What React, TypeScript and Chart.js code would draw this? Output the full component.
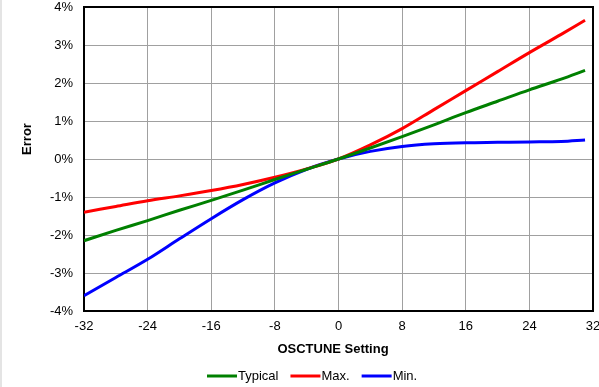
import React, { useEffect, useRef } from "react";
import { Chart, registerables } from "chart.js";

Chart.register(...registerables);

const xSettings = [-32, -28, -24, -20, -16, -12, -8, -4, 0, 4, 8, 12, 16, 20, 24, 28, 31];
const typicalErr = [-2.15, -1.88, -1.62, -1.35, -1.09, -0.82, -0.54, -0.27, 0, 0.29, 0.59, 0.9, 1.22, 1.52, 1.82, 2.1, 2.33];
const maxErr = [-1.4, -1.25, -1.1, -0.97, -0.83, -0.67, -0.48, -0.26, 0, 0.37, 0.8, 1.3, 1.8, 2.3, 2.8, 3.28, 3.65];
const minErr = [-3.6, -3.12, -2.64, -2.1, -1.57, -1.07, -0.63, -0.27, 0, 0.2, 0.33, 0.4, 0.43, 0.44, 0.45, 0.46, 0.5];

const seriesLabels = ["Typical", "Max.", "Min."];
const seriesColors = ["#008000", "#ff0000", "#0000ff"];
const xTickValues = [-32, -24, -16, -8, 0, 8, 16, 24, 32];
const yTickValues = [-4, -3, -2, -1, 0, 1, 2, 3, 4];
const xTitle = "OSCTUNE Setting";
const yTitle = "Error";

const FONT = "'Liberation Sans', Arial, sans-serif";

const framePlugin = {
  id: "frame",
  beforeDatasetsDraw(chart: any) {
    const { ctx, chartArea } = chart;
    ctx.save();
    ctx.strokeStyle = "#000000";
    ctx.lineWidth = 2;
    ctx.strokeRect(chartArea.left, chartArea.top, chartArea.right - chartArea.left, chartArea.bottom - chartArea.top);
    ctx.restore();
  },
};

const titlesPlugin = {
  id: "axisTitles",
  afterDraw(chart: any) {
    const { ctx } = chart;
    ctx.save();
    ctx.font = `bold 13px ${FONT}`;
    ctx.fillStyle = "#000000";
    ctx.textAlign = "center";
    ctx.textBaseline = "middle";
    ctx.fillText(xTitle, 333, 349);
    ctx.translate(27, 139);
    ctx.rotate(-Math.PI / 2);
    ctx.fillText(yTitle, 0, 0);
    ctx.restore();
  },
};

const legendPlugin = {
  id: "customLegend",
  afterDraw(chart: any) {
    const { ctx } = chart;
    ctx.save();
    ctx.font = `13px ${FONT}`;
    ctx.textBaseline = "middle";
    ctx.textAlign = "left";
    let x = 207;
    const y = 376;
    chart.data.datasets.forEach((ds: any) => {
      ctx.strokeStyle = ds.borderColor;
      ctx.lineWidth = 3;
      ctx.beginPath();
      ctx.moveTo(x, y);
      ctx.lineTo(x + 30, y);
      ctx.stroke();
      ctx.fillStyle = "#000000";
      ctx.fillText(ds.label, x + 31, y);
      x += 31 + ctx.measureText(ds.label).width + 12;
    });
    ctx.restore();
  },
};

export default function App() {
  const canvasRef = useRef<HTMLCanvasElement | null>(null);

  useEffect(() => {
    const canvas = canvasRef.current;
    if (!canvas) return;
    const seriesData = [typicalErr, maxErr, minErr];
    const chart = new Chart(canvas, {
      type: "line",
      data: {
        datasets: seriesData.map((vals, i) => ({
          label: seriesLabels[i],
          data: xSettings.map((x, j) => ({ x, y: vals[j] })),
          borderColor: seriesColors[i],
          backgroundColor: seriesColors[i],
          borderWidth: 3,
          pointRadius: 0,
          cubicInterpolationMode: "monotone" as const,
          fill: false,
        })),
      },
      options: {
        animation: false,
        responsive: false,
        maintainAspectRatio: false,
        layout: { padding: { left: 0, right: 6, top: 7, bottom: 28 } },
        plugins: {
          legend: { display: false },
          tooltip: { enabled: false },
        },
        scales: {
          x: {
            type: "linear",
            min: -32,
            max: 32,
            afterBuildTicks: (scale: any) => {
              scale.ticks = xTickValues.map((v) => ({ value: v }));
            },
            afterFit: (scale: any) => {
              scale.height = 48;
              scale.paddingLeft = 0;
              scale.paddingRight = 0;
            },
            grid: { color: "#a0a0a0", lineWidth: 1, drawTicks: false },
            border: { display: false },
            ticks: {
              padding: 8,
              color: "#000000",
              font: { family: FONT, size: 13, lineHeight: 1.2 },
              maxRotation: 0,
              autoSkip: false,
            },
            title: { display: false },
          },
          y: {
            type: "linear",
            min: -4,
            max: 4,
            afterBuildTicks: (scale: any) => {
              scale.ticks = yTickValues.map((v) => ({ value: v }));
            },
            afterFit: (scale: any) => {
              scale.width = 84;
              scale.paddingTop = 0;
              scale.paddingBottom = 0;
            },
            grid: { color: "#a0a0a0", lineWidth: 1, drawTicks: false },
            border: { display: false },
            ticks: {
              padding: 11,
              color: "#000000",
              font: { family: FONT, size: 13, lineHeight: 1 },
              callback: (v: any) => `${v}%`,
            },
            title: { display: false },
          },
        },
      },
      plugins: [framePlugin, titlesPlugin, legendPlugin],
    });
    return () => chart.destroy();
  }, []);

  return (
    <div style={{ position: "fixed", left: 0, top: 0, width: 599, height: 387, background: "#ffffff" }}>
      <canvas ref={canvasRef} width={599} height={387} style={{ display: "block", width: 599, height: 387 }} />
      <div style={{ position: "absolute", left: 0, top: 0, width: 2, height: 387, background: "#e4e4e4" }} />
    </div>
  );
}
